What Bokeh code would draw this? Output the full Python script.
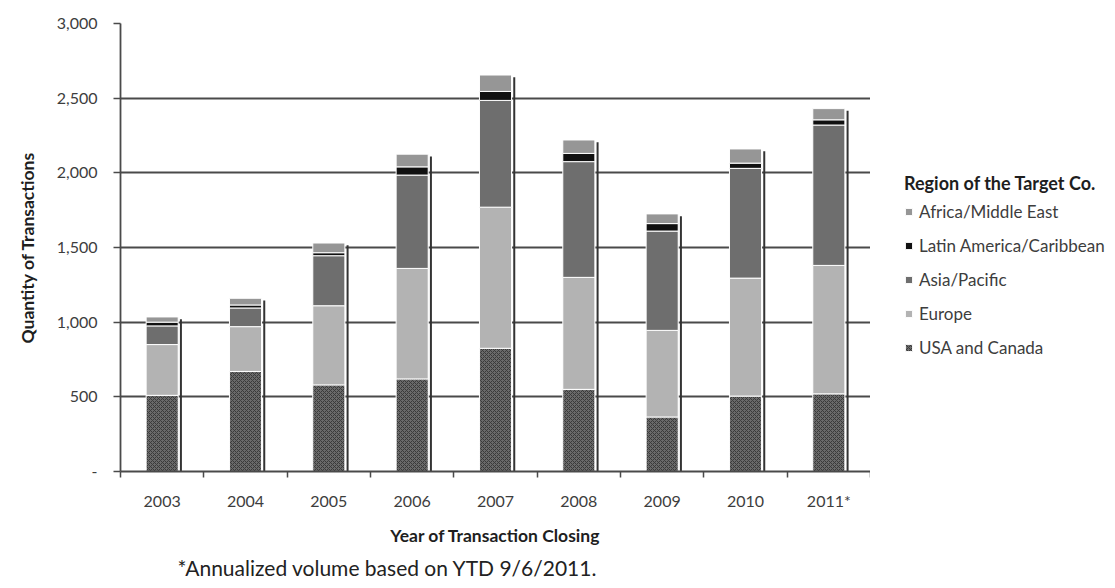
import numpy as np
from bokeh.plotting import figure
from bokeh.layouts import row
from bokeh.models import (ColumnDataSource, FixedTicker, Legend, LegendItem, Title,
                          NumeralTickFormatter, Range1d)
from bokeh.transform import dodge
from bokeh.embed import file_html
from bokeh.resources import INLINE

# ---- data ----
years = ["2003", "2004", "2005", "2006", "2007", "2008", "2009", "2010", "2011*"]
usa_canada = [510, 670, 580, 620, 825, 550, 365, 505, 520]
europe = [340, 300, 530, 740, 945, 750, 580, 790, 860]
asia_pacific = [125, 125, 335, 625, 715, 775, 665, 735, 940]
latin_america = [25, 20, 20, 55, 60, 55, 50, 35, 35]
africa_me = [35, 45, 65, 85, 110, 90, 65, 95, 75]
y_ticks = [0, 500, 1000, 1500, 2000, 2500, 3000]
series_names = ["USA and Canada", "Europe", "Asia/Pacific",
                "Latin America/Caribbean", "Africa/Middle East"]

x = list(range(len(years)))
totals = [a + b + c + d + e for a, b, c, d, e in
          zip(usa_canada, europe, asia_pacific, latin_america, africa_me)]

src = ColumnDataSource(dict(
    x=x, usa=usa_canada, europe=europe, asia=asia_pacific,
    latin=latin_america, africa=africa_me, total=totals,
    shadow_top=[t - 15 for t in totals], zero=[0] * len(x)))

FONT = "Lato"
TXT = "#3d3d3d"
stackers = ["usa", "europe", "asia", "latin", "africa"]
colors = ["#6a6a6a", "#b3b3b3", "#6e6e6e", "#111111", "#969696"]
hatches = ["diagonal_cross", " ", " ", " ", " "]
bar_style = dict(fill_color=colors, line_color="white", line_width=1,
                 hatch_pattern=hatches, hatch_color=["#3a3a3a"] * 5,
                 hatch_scale=[4] * 5, hatch_weight=[1] * 5)

p = figure(width=870, height=588, x_range=Range1d(-0.5, 8.5), y_range=Range1d(0, 3000),
           output_backend="svg", toolbar_location=None,
           min_border_left=120, min_border_right=0, min_border_top=23, min_border_bottom=117,
           background_fill_color="white", border_fill_color="white")
p.outline_line_color = None
p.xgrid.grid_line_color = None
p.ygrid.grid_line_color = "#4a4a4a"
p.ygrid.grid_line_width = 1.8
p.ygrid.ticker = FixedTicker(ticks=y_ticks)

# shadow lines on the right of each bar
p.segment(x0=dodge("x", 0.225), x1=dodge("x", 0.225), y0="zero", y1="shadow_top",
          source=src, line_color="#333333", line_width=2)

renderers = p.vbar_stack(stackers, x="x", width=0.385, source=src, **bar_style)

# axes
yax = p.yaxis[0]
yax.ticker = FixedTicker(ticks=y_ticks)
yax.formatter = NumeralTickFormatter(format="0,0")
yax.major_label_overrides = {0: "-"}
yax.axis_label = "Quantity of Transactions"
yax.axis_label_text_font = FONT
yax.axis_label_text_font_style = "bold"
yax.axis_label_text_font_size = "17.5px"
yax.axis_label_text_color = "#1e1e1e"
yax.axis_label_standoff = 16
yax.major_label_text_font = FONT
yax.major_label_text_font_size = "16px"
yax.major_label_text_color = TXT
yax.major_label_standoff = 16
yax.axis_line_color = "#4a4a4a"
yax.axis_line_width = 1.8
yax.major_tick_line_color = "#4a4a4a"
yax.major_tick_line_width = 1.5
yax.major_tick_out = 7
yax.major_tick_in = 0
yax.minor_tick_line_color = None

xax = p.xaxis[0]
xax.ticker = FixedTicker(ticks=x, minor_ticks=[i - 0.5 for i in range(len(years) + 1)])
xax.major_label_overrides = {i: y for i, y in enumerate(years)}
xax.axis_label = "Year of Transaction Closing"
xax.axis_label_text_font = FONT
xax.axis_label_text_font_style = "bold"
xax.axis_label_text_font_size = "17.5px"
xax.axis_label_text_color = "#1e1e1e"
xax.axis_label_standoff = 12
xax.major_label_text_font = FONT
xax.major_label_text_font_size = "16px"
xax.major_label_text_color = TXT
xax.major_label_standoff = 13
xax.major_tick_line_color = None
xax.major_tick_out = 0
xax.major_tick_in = 0
xax.minor_tick_line_color = "#4a4a4a"
xax.minor_tick_line_width = 1.5
xax.minor_tick_out = 6
xax.minor_tick_in = 0
xax.axis_line_color = "#4a4a4a"
xax.axis_line_width = 1.8

# footnote
p.add_layout(Title(text="*Annualized volume based on YTD 9/6/2011.", align="left", offset=57,
                   text_font=FONT, text_font_style="normal", text_font_size="21px",
                   text_color="#222222", standoff=9), "below")

# legend panel (separate figure to the right of the chart)
lg = figure(width=245, height=588, x_range=Range1d(0, 1), y_range=Range1d(0, 1),
            output_backend="svg", toolbar_location=None, min_border=0,
            background_fill_color="white", border_fill_color="white")
lg.axis.visible = False
lg.grid.grid_line_color = None
lg.outline_line_color = None
proxies = lg.vbar_stack(stackers, x="x", width=0.385, source=src, **bar_style)
for r in proxies:
    r.visible = False
items = [LegendItem(label=name, renderers=[r]) for name, r in zip(series_names, proxies)][::-1]
legend = Legend(items=items, title="Region of the Target Co.",
                title_text_font=FONT, title_text_font_style="bold", title_text_font_size="18px",
                title_text_color="#1e1e1e", title_standoff=7,
                label_text_font=FONT, label_text_font_size="17px", label_text_color=TXT,
                glyph_width=9, glyph_height=9, label_height=20, label_standoff=6,
                spacing=13, padding=0, margin=0, click_policy="none",
                inactive_fill_alpha=0,
                border_line_color=None, background_fill_alpha=0,
                location=(34, 113))
lg.add_layout(legend, "center")

layout = row(p, lg, spacing=0)
open("out.html", "w").write(file_html(layout, INLINE))
